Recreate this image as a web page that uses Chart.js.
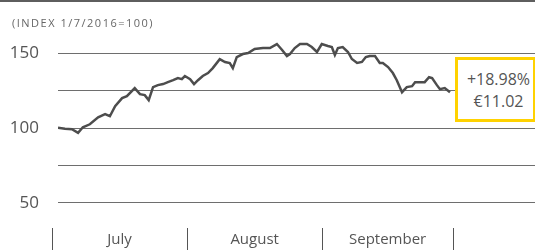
<!DOCTYPE html>
<html>
<head>
<meta charset="utf-8">
<script src="https://cdn.jsdelivr.net/npm/chart.js@4"></script>
<style>
    html, body { margin: 0; padding: 0; background: #fff; }
    #wrap { position: relative; width: 535px; height: 250px; overflow: hidden; }
    #topRule { position: absolute; left: 0; top: 0; width: 535px; height: 2px; background: #5e5e5e; }
    #subtitle {
        position: absolute; left: 12px; top: 15px;
        font: 11px "Open Sans", sans-serif; letter-spacing: 1.5px; color: #666;
    }
    #badge {
        position: absolute; left: 455px; top: 57px; width: 75px; height: 51px;
        border: 3px solid #ffd200; background: #fff;
        font: 16px "Open Sans", sans-serif; color: #555; text-align: center;
        line-height: 22px; padding-top: 8px; box-sizing: content-box;
    }
    #badge div { padding-left: 6px; }
</style>
</head>
<body>
<div id="wrap">
    <canvas id="indexChart" width="535" height="250"></canvas>
    <div id="topRule"></div>
    <div id="subtitle">(INDEX 1/7/2016=100)</div>
    <div id="badge"><div>+18.98%</div><div>€11.02</div></div>
</div>
<script>
// days counted from 1 July 2016 (1 = 1 July)
const days = [
    1.9, 3.5, 5.1, 6.5, 7.6, 9.2, 11.1, 12.7, 13.8, 15.0,
    16.6, 17.7, 19.5, 20.7, 21.8, 22.7, 23.7, 24.8, 26.0, 27.1,
    28.3, 29.4, 30.3, 31.0, 32.2, 33.1, 34.0, 35.1, 36.3, 37.4,
    39.0, 40.2, 41.3, 42.0, 42.9, 44.3, 45.5, 47.0, 48.9, 50.5,
    52.1, 53.3, 54.4, 55.1, 56.2, 57.4, 59.0, 60.1, 61.3, 62.4,
    63.8, 64.7, 65.4, 66.1, 67.2, 68.4, 69.3, 70.5, 71.6, 72.5,
    73.4, 74.6, 75.7, 76.4, 77.6, 78.7, 79.6, 80.8, 81.9, 83.1,
    83.8, 85.4, 86.0, 87.0, 87.7, 88.8, 89.5, 90.6, 91.8
];
const indexValues = [
    100.2, 99.5, 99.2, 96.8, 100.5, 102.5, 107.2, 109.3, 107.9, 114.6,
    120.0, 121.3, 126.7, 122.7, 122.0, 118.7, 127.4, 128.7, 129.4, 130.7,
    132.0, 133.4, 132.7, 134.8, 132.7, 129.4, 132.0, 134.8, 136.8, 140.1,
    146.1, 144.2, 143.5, 140.1, 147.5, 149.5, 150.2, 152.9, 153.5, 153.5,
    156.2, 152.2, 148.2, 149.5, 153.5, 156.2, 156.2, 154.2, 150.9, 156.2,
    154.9, 154.2, 148.9, 153.5, 154.2, 150.9, 146.2, 143.5, 144.2, 147.5,
    148.2, 148.2, 143.5, 143.5, 140.8, 136.8, 132.0, 124.0, 127.4, 128.0,
    130.7, 130.7, 130.7, 134.0, 133.4, 128.7, 126.0, 126.7, 124.0
];
const months = ['July', 'August', 'September'];
const monthEdges = [0.5, 31.5, 62.5, 92.5];
const yTicks = [50, 75, 100, 125, 150];
const yLabelled = [50, 100, 150];

// month separators and names under the plot
const monthAxis = {
    id: 'monthAxis',
    afterDraw(chart) {
        const ctx = chart.ctx;
        const xs = chart.scales.x;
        const top = chart.chartArea.bottom + 3;
        ctx.save();
        ctx.strokeStyle = '#555';
        ctx.lineWidth = 1;
        monthEdges.forEach(v => {
            const px = Math.round(xs.getPixelForValue(v)) + 0.5;
            ctx.beginPath();
            ctx.moveTo(px, top);
            ctx.lineTo(px, 250);
            ctx.stroke();
        });
        ctx.fillStyle = '#555';
        ctx.font = '15px "Open Sans", sans-serif';
        ctx.textAlign = 'center';
        ctx.textBaseline = 'middle';
        months.forEach((m, i) => {
            const mid = (monthEdges[i] + monthEdges[i + 1]) / 2;
            ctx.fillText(m, xs.getPixelForValue(mid), 240);
        });
        ctx.restore();
    }
};

new Chart(document.getElementById('indexChart'), {
    type: 'line',
    data: {
        datasets: [{
            data: days.map((d, i) => ({ x: d, y: indexValues[i] })),
            borderColor: '#4d4d4d',
            borderWidth: 2.5,
            pointRadius: 0,
            pointHoverRadius: 0,
            tension: 0,
            fill: false
        }]
    },
    options: {
        responsive: false,
        animation: false,
        layout: { autoPadding: false, padding: { top: 30, bottom: 25, left: 0, right: 0 } },
        plugins: { legend: { display: false }, tooltip: { enabled: false } },
        scales: {
            x: { type: 'linear', display: false, min: 1.9, max: 111.3 },
            y: {
                min: 35.1,
                max: 165.6,
                afterFit(scale) { scale.width = 58; },
                afterBuildTicks(scale) { scale.ticks = yTicks.map(v => ({ value: v })); },
                border: { display: false },
                grid: { color: '#6e6e6e', lineWidth: 1, drawTicks: true, tickLength: 19, tickColor: 'rgba(0,0,0,0)' },
                ticks: {
                    padding: 0,
                    color: '#555',
                    font: { family: 'Open Sans', size: 17 },
                    callback: v => yLabelled.includes(v) ? String(v) : ''
                }
            }
        }
    },
    plugins: [monthAxis]
});
</script>
</body>
</html>
